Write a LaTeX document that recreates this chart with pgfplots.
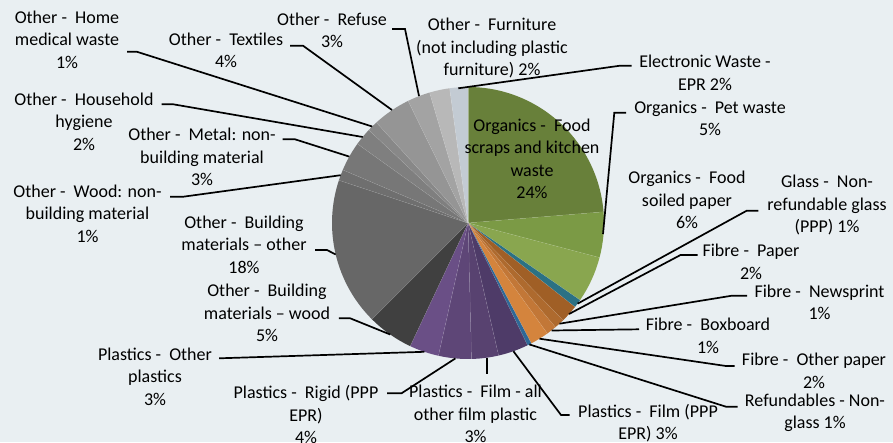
\documentclass[border=0pt]{standalone}
\usepackage{fontspec}
\setmainfont{Carlito}
\usepackage{pgfplots}
\pgfplotsset{compat=1.18}
\definecolor{bg}{HTML}{E9EFF2}
\definecolor{cfood}{HTML}{68803A}
\definecolor{cpet}{HTML}{7B9A45}
\definecolor{csoil}{HTML}{89A64F}
\definecolor{cglass}{HTML}{2B7184}
\definecolor{cpaper}{HTML}{A05F26}
\definecolor{cnews}{HTML}{AE6A2E}
\definecolor{cbox}{HTML}{C27737}
\definecolor{coth}{HTML}{D4843D}
\definecolor{cref}{HTML}{2F6896}
\definecolor{cfilmp}{HTML}{4E3B68}
\definecolor{cfilmo}{HTML}{584270}
\definecolor{crigid}{HTML}{5E4677}
\definecolor{cplo}{HTML}{6A4F86}
\definecolor{cbw}{HTML}{404040}
\definecolor{cbo}{HTML}{676767}
\definecolor{cwood}{HTML}{6F6F6F}
\definecolor{cmetal}{HTML}{777777}
\definecolor{chyg}{HTML}{7F7F7F}
\definecolor{cmed}{HTML}{888888}
\definecolor{ctex}{HTML}{959595}
\definecolor{crefu}{HTML}{A3A3A3}
\definecolor{cfurn}{HTML}{B8B8B8}
\definecolor{cew}{HTML}{C3CBD3}
\tikzset{lab/.style={align=center, inner sep=0pt, font=\fontsize{18}{22.5}\selectfont, text=black},
  lead/.style={black, line width=1.7pt}}
\begin{document}
\begin{tikzpicture}
\begin{axis}[width=893pt, height=442pt, scale only axis, xmin=0, xmax=893, ymin=0, ymax=442,
  y dir=reverse, hide axis, clip=false]
\fill[bg] (axis cs:0,0) rectangle (axis cs:893,442);
% slices: percentage / colour, clockwise from the top
\foreach \v/\c [remember=\e as \s (initially 90)] in {23.7/cfood, 5.4/cpet, 5.5/csoil, 1.0/cglass,
  2.1/cpaper, 1.2/cnews, 1.2/cbox, 2.2/coth, 0.5/cref, 3.6/cfilmp, 3.2/cfilmo, 3.9/crigid,
  3.5/cplo, 5.5/cbw, 17.6/cbo, 1.3/cwood, 3.5/cmetal, 2.1/chyg, 1.25/cmed, 4.5/ctex,
  2.7/crefu, 2.4/cfurn, 2.15/cew} {
  \pgfmathsetmacro\e{\s-3.6*\v}
  \edef\tmp{\noexpand\fill[\c] (axis cs:468,223) -- ++(\s:136pt) arc[start angle=\s, end angle=\e, radius=136pt] -- cycle;
    \noexpand\draw[white, opacity=0.35, line width=0.5pt] (axis cs:468,223) -- ++(\e:136pt);}
  \tmp
}
% labels
\node[lab] at (axis cs:532,159) {Organics -\ \ Food\\scraps and kitchen\\waste\\24\%};
\node[lab] at (axis cs:67,39.5) {Other -\ \ Home\\medical waste\\1\%};
\node[lab] at (axis cs:226,50.5) {Other -\ \ Textiles\\4\%};
\node[lab] at (axis cs:332,30.3) {Other -\ \ Refuse\\3\%};
\node[lab] at (axis cs:492,48) {Other -\ \ Furniture\\(not including plastic\\furniture) 2\%};
\node[lab] at (axis cs:705,73) {Electronic Waste -\\EPR 2\%};
\node[lab] at (axis cs:710,118.3) {Organics -\ \ Pet waste\\5\%};
\node[lab] at (axis cs:687,200) {Organics -\ \ Food\\soiled paper\\6\%};
\node[lab] at (axis cs:827,205) {Glass -\ \ Non-\\refundable glass\\(PPP) 1\%};
\node[lab] at (axis cs:751,261.7) {Fibre -\ \ Paper\\2\%};
\node[lab] at (axis cs:819.5,302.5) {Fibre -\ \ Newsprint\\1\%};
\node[lab] at (axis cs:708,335.8) {Fibre -\ \ Boxboard\\1\%};
\node[lab] at (axis cs:814,370.8) {Fibre -\ \ Other paper\\2\%};
\node[lab] at (axis cs:815,412.8) {Refundables - Non-\\glass 1\%};
\node[lab] at (axis cs:648,423.3) {Plastics -\ \ Film (PPP\\EPR) 3\%};
\node[lab] at (axis cs:475.5,414) {Plastics -\ \ Film - all\\other film plastic\\3\%};
\node[lab] at (axis cs:306,414.7) {Plastics -\ \ Rigid (PPP\\EPR)\\4\%};
\node[lab] at (axis cs:155,376.7) {Plastics -\ \ Other\\plastics\\3\%};
\node[lab] at (axis cs:267,313) {Other -\ \ Building\\materials – wood\\5\%};
\node[lab] at (axis cs:244,244.5) {Other -\ \ Building\\materials – other\\18\%};
\node[lab] at (axis cs:87.5,213.5) {Other -\ \ Wood: non-\\building material\\1\%};
\node[lab] at (axis cs:202,157) {Other -\ \ Metal: non-\\building material\\3\%};
\node[lab] at (axis cs:84,121.7) {Other -\ \ Household\\hygiene\\2\%};
% leader lines
\draw[lead] (axis cs:127,51.7) -- (axis cs:136.7,51.7) -- (axis cs:372.2,126.5);
\draw[lead] (axis cs:290,45.7) -- (axis cs:303,45.7) -- (axis cs:392,110);
\draw[lead] (axis cs:392,29) -- (axis cs:405,29) -- (axis cs:419,96);
\draw[lead] (axis cs:631.7,65.7) -- (axis cs:620,65.7) -- (axis cs:458.3,88.3);
\draw[lead] (axis cs:626,112.7) -- (axis cs:614.3,112.7) -- (axis cs:603,234);
\draw[lead] (axis cs:758.3,210.7) -- (axis cs:746.7,210.7) -- (axis cs:577.5,303.7);
\draw[lead] (axis cs:697.6,255) -- (axis cs:680.5,255) -- (axis cs:569,314);
\draw[lead] (axis cs:747.2,295.7) -- (axis cs:731.8,295.7) -- (axis cs:559.4,323.7);
\draw[lead] (axis cs:639,329.3) -- (axis cs:551.7,330.5);
\draw[lead] (axis cs:734.6,366) -- (axis cs:726,366) -- (axis cs:539.5,338.7);
\draw[lead] (axis cs:737.5,406.7) -- (axis cs:726,406.7) -- (axis cs:529.3,344.4);
\draw[lead] (axis cs:569.5,415) -- (axis cs:561,415) -- (axis cs:513.4,351.2);
\draw[lead] (axis cs:487,358.3) -- (axis cs:487,374);
\draw[lead] (axis cs:387.2,393.3) -- (axis cs:401.5,393.3) -- (axis cs:455.4,358.4);
\draw[lead] (axis cs:219.2,358.3) -- (axis cs:424.4,351.8);
\draw[lead] (axis cs:338.8,318.3) -- (axis cs:350.2,318.3) -- (axis cs:390.2,334.5);
\draw[lead] (axis cs:315,250) -- (axis cs:327,250) -- (axis cs:335.7,254.5);
\draw[lead] (axis cs:170,196.7) -- (axis cs:183.3,196.7) -- (axis cs:340.7,175.2);
\draw[lead] (axis cs:282.7,139.3) -- (axis cs:295,139.3) -- (axis cs:349.3,156.6);
\draw[lead] (axis cs:161.7,104.3) -- (axis cs:173.3,104.3) -- (axis cs:362.7,137);
\end{axis}
\pgfresetboundingbox
\path (current axis.south west) rectangle (current axis.north east);
\end{tikzpicture}
\end{document}
